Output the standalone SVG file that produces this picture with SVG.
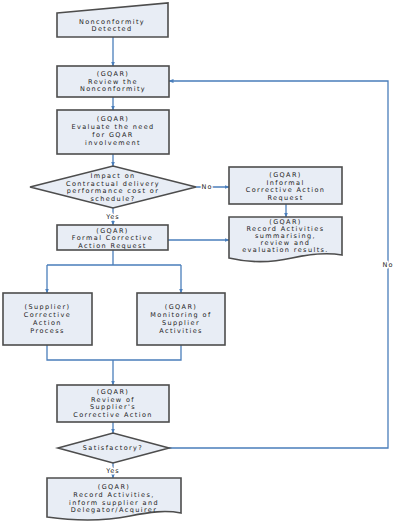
<svg xmlns="http://www.w3.org/2000/svg" width="400" height="524" viewBox="0 0 400 524">
<defs>
<marker id="ah" viewBox="0 0 10 10" refX="9" refY="5" markerWidth="5" markerHeight="5" orient="auto" markerUnits="userSpaceOnUse">
<path d="M0,1 L10,5 L0,9 Z" fill="#4a7ebb"/>
</marker>
<style>
.n{fill:#e8edf5;stroke:#4d4d4d;stroke-width:1.6}
.t{font-family:"DejaVu Sans",sans-serif;font-size:6.5px;fill:#222;text-anchor:middle;letter-spacing:1.4px}
.c{fill:none;stroke:#4a7ebb;stroke-width:1.3}
.a{marker-end:url(#ah)}
.l{font-family:"DejaVu Sans",sans-serif;font-size:6.5px;fill:#222;text-anchor:middle;letter-spacing:1px;stroke:#fff;stroke-width:3;paint-order:stroke}
</style>
</defs>
<rect width="400" height="524" fill="#fff"/>
<g id="connectors">
<path class="c a" d="M113,37 V66"/>
<path class="c a" d="M113,97 V110"/>
<path class="c a" d="M113,154 V166"/>
<path class="c a" d="M113,208 V225"/>
<path class="c a" d="M196,187 H229"/>
<path class="c a" d="M286,204 V217"/>
<path class="c a" d="M168,240 H229"/>
<path class="c" d="M113,250 V265 M47,265 H181"/>
<path class="c a" d="M47,265 V293"/>
<path class="c a" d="M181,265 V293"/>
<path class="c" d="M47,345 V360 H181 V345"/>
<path class="c a" d="M113,360 V385"/>
<path class="c a" d="M113,422 V433"/>
<path class="c a" d="M113,463 V478"/>
<path class="c a" d="M169,448 H388 V81 H169"/>
<text class="l" x="207" y="189.3">No</text>
<text class="l" x="113" y="219.3">Yes</text>
<text class="l" x="388" y="267.3">No</text>
<text class="l" x="113" y="473.3">Yes</text>
</g>
<g id="n1">
<path class="n" d="M57,13 L168,3 V37 H57 Z"/>
<text class="t" x="112" y="23.8">Nonconformity</text>
<text class="t" x="112" y="31.3">Detected</text>
</g>
<g id="n2">
<rect class="n" x="57" y="66" width="112" height="31"/>
<text class="t" x="113" y="76.3">(GQAR)</text>
<text class="t" x="113" y="83.8">Review the</text>
<text class="t" x="113" y="91.3">Nonconformity</text>
</g>
<g id="n3">
<rect class="n" x="57" y="110" width="112" height="44"/>
<text class="t" x="113" y="121.3">(GQAR)</text>
<text class="t" x="113" y="129.3">Evaluate the need</text>
<text class="t" x="113" y="137.3">for GQAR</text>
<text class="t" x="113" y="145.3">involvement</text>
</g>
<g id="n4">
<path class="n" d="M30,187 L113,166 L196,187 L113,208 Z"/>
<text class="t" x="113" y="178.3">Impact on</text>
<text class="t" x="113" y="185.8">Contractual delivery</text>
<text class="t" x="113" y="193.3">performance cost or</text>
<text class="t" x="113" y="200.8">schedule?</text>
</g>
<g id="n5">
<rect class="n" x="229" y="167" width="113" height="37"/>
<text class="t" x="285.5" y="177.3">(GQAR)</text>
<text class="t" x="285.5" y="184.8">Informal</text>
<text class="t" x="285.5" y="192.3">Corrective Action</text>
<text class="t" x="285.5" y="199.8">Request</text>
</g>
<g id="n6">
<path class="n" d="M229,217 H342 V255 C325,252 310,254 292,258 C270,263 250,263 229,258 Z"/>
<text class="t" x="285.5" y="224.3">(GQAR)</text>
<text class="t" x="285.5" y="231.3">Record Activities</text>
<text class="t" x="285.5" y="238.3">summarising,</text>
<text class="t" x="285.5" y="245.3">review and</text>
<text class="t" x="285.5" y="252.3">evaluation results.</text>
</g>
<g id="n7">
<rect class="n" x="57" y="225" width="111" height="25"/>
<text class="t" x="112.5" y="232.8">(GQAR)</text>
<text class="t" x="112.5" y="240.3">Formal Corrective</text>
<text class="t" x="112.5" y="247.8">Action Request</text>
</g>
<g id="n8">
<rect class="n" x="3" y="293" width="89" height="52"/>
<text class="t" x="47.5" y="309.3">(Supplier)</text>
<text class="t" x="47.5" y="317.3">Corrective</text>
<text class="t" x="47.5" y="325.3">Action</text>
<text class="t" x="47.5" y="333.3">Process</text>
</g>
<g id="n9">
<rect class="n" x="137" y="293" width="88" height="52"/>
<text class="t" x="181" y="309.3">(GQAR)</text>
<text class="t" x="181" y="317.3">Monitoring of</text>
<text class="t" x="181" y="325.3">Supplier</text>
<text class="t" x="181" y="333.3">Activities</text>
</g>
<g id="n10">
<rect class="n" x="57" y="385" width="112" height="37"/>
<text class="t" x="113" y="394.3">(GQAR)</text>
<text class="t" x="113" y="401.8">Review of</text>
<text class="t" x="113" y="409.3">Supplier's</text>
<text class="t" x="113" y="416.8">Corrective Action</text>
</g>
<g id="n11">
<path class="n" d="M58,448 L113,433 L169,448 L113,463 Z"/>
<text class="t" x="113" y="450.3">Satisfactory?</text>
</g>
<g id="n12">
<path class="n" d="M47,478 H181 V513 C165,510 150,512 130,516 C105,521 75,521 47,517 Z"/>
<text class="t" x="114" y="488.5">(GQAR)</text>
<text class="t" x="114" y="496.5">Record Activities,</text>
<text class="t" x="114" y="504.5">inform supplier and</text>
<text class="t" x="114" y="512.3">Delegator/Acquirer</text>
</g>
</svg>
